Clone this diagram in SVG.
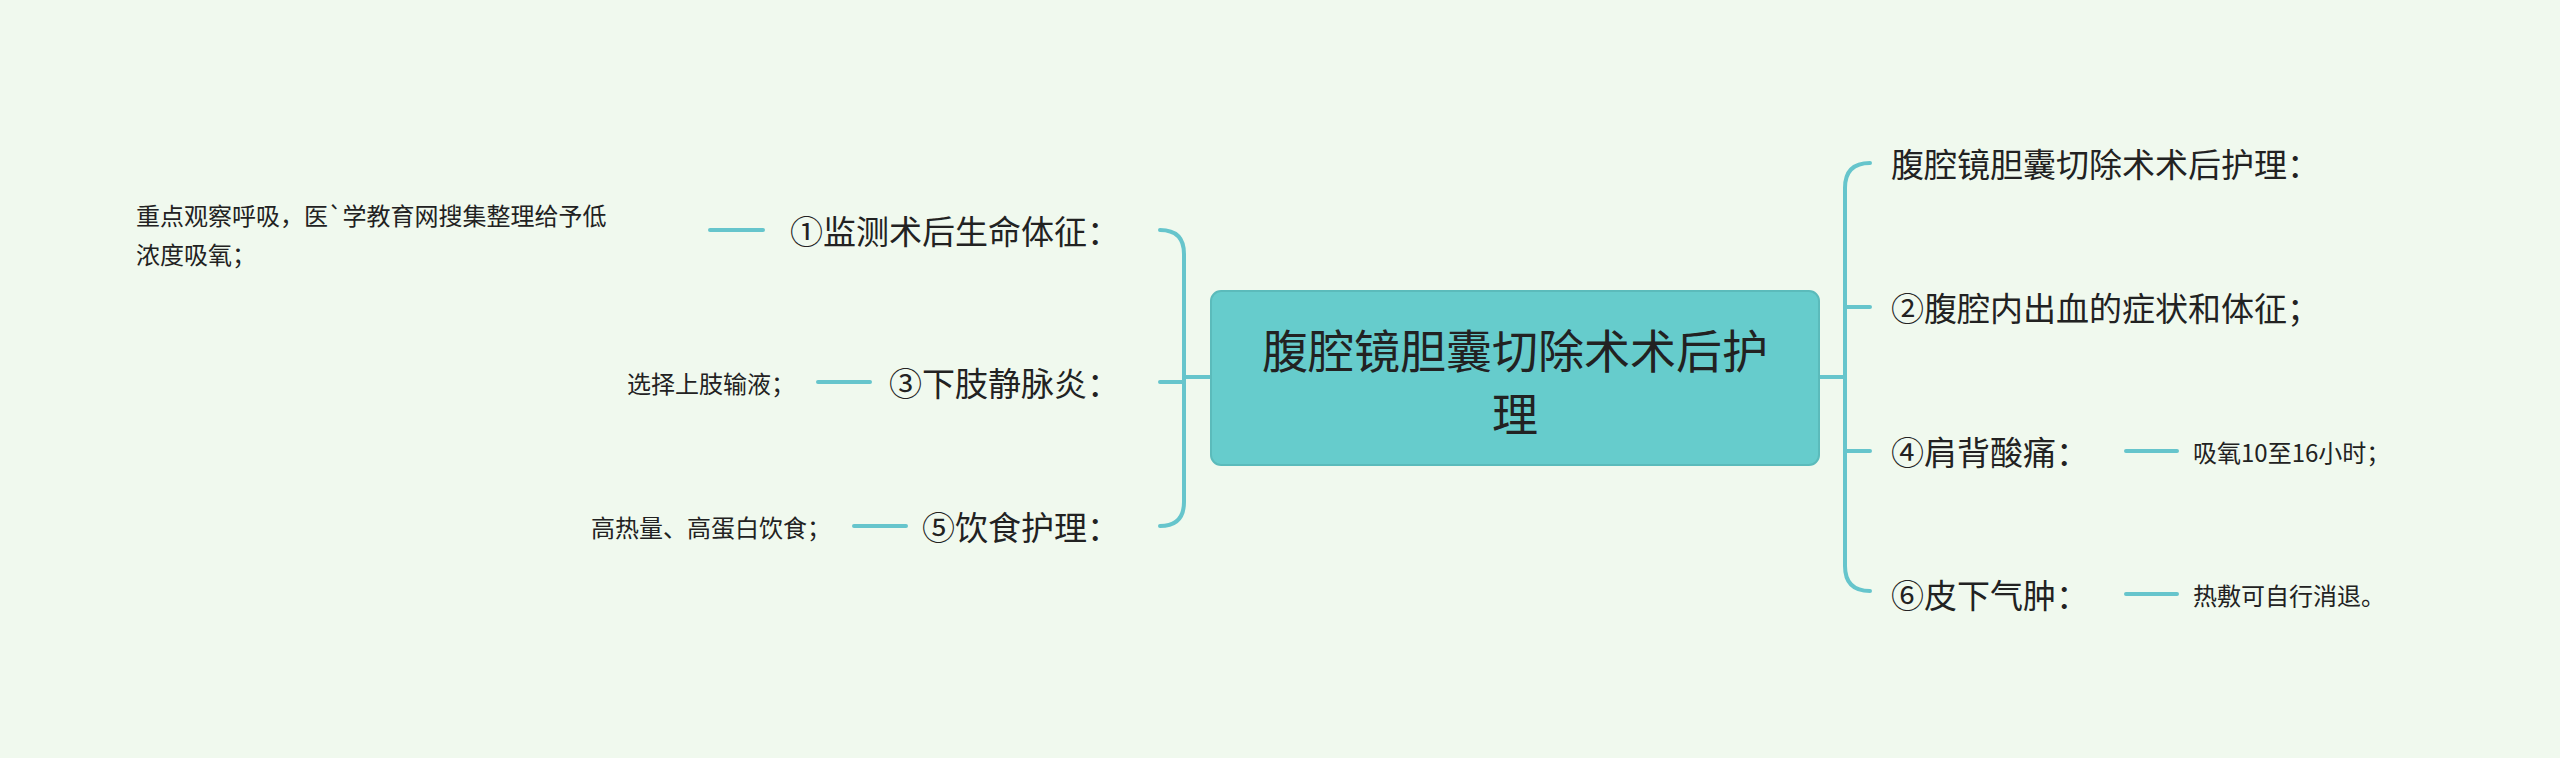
<svg xmlns="http://www.w3.org/2000/svg" width="2560" height="758" viewBox="0 0 2560 758">
<style>
.l{fill:none;stroke:#66C5CC;stroke-width:4;stroke-linecap:round}
.t{font-family:"Noto Sans CJK SC","Noto Sans",sans-serif;fill:#222;dominant-baseline:central}
.b{font-size:33px}
.s{font-size:24px}
</style>
<rect width="2560" height="758" fill="#F0F9EE"/>
<g id="connectors">
<path class="l" d="M1819 377H1845M1870 163Q1845 163 1845 188V566Q1845 591 1870 591M1845 307H1870M1845 451H1870"/>
<path class="l" d="M1211 377H1184M1160 230Q1184 230 1184 254V502Q1184 526 1160 526M1184 382H1160"/>
<path class="l" d="M2126 451H2177M2126 594H2177M710 230H763M818 382H870M854 526H906"/>
</g>
<g id="center">
<rect x="1211" y="291" width="608" height="174" rx="10" fill="#66CCCC" stroke="#5BBBBB" stroke-width="2"/>
<text class="t" x="1515" y="348" text-anchor="middle" font-size="46">腹腔镜胆囊切除术术后护</text>
<text class="t" x="1515" y="411" text-anchor="middle" font-size="46">理</text>
</g>
<g id="r1"><text class="t b" x="1891" y="163">腹腔镜胆囊切除术术后护理：</text></g>
<g id="r2"><text class="t b" x="1891" y="307">②腹腔内出血的症状和体征；</text></g>
<g id="r3"><text class="t b" x="1891" y="451">④肩背酸痛：</text></g>
<g id="r3c"><text class="t s" x="2193" y="451">吸氧10至16小时；</text></g>
<g id="r4"><text class="t b" x="1891" y="594">⑥皮下气肿：</text></g>
<g id="r4c"><text class="t s" x="2193" y="594">热敷可自行消退。</text></g>
<g id="l1"><text class="t b" x="1120" y="230" text-anchor="end">①监测术后生命体征：</text></g>
<g id="l1c"><text class="t s" x="136" y="214">重点观察呼吸，医`学教育网搜集整理给予低</text><text class="t s" x="136" y="253">浓度吸氧；</text></g>
<g id="l2"><text class="t b" x="1120" y="382" text-anchor="end">③下肢静脉炎：</text></g>
<g id="l2c"><text class="t s" x="795" y="382" text-anchor="end">选择上肢输液；</text></g>
<g id="l3"><text class="t b" x="1120" y="526" text-anchor="end">⑤饮食护理：</text></g>
<g id="l3c"><text class="t s" x="831" y="526" text-anchor="end">高热量、高蛋白饮食；</text></g>
</svg>
